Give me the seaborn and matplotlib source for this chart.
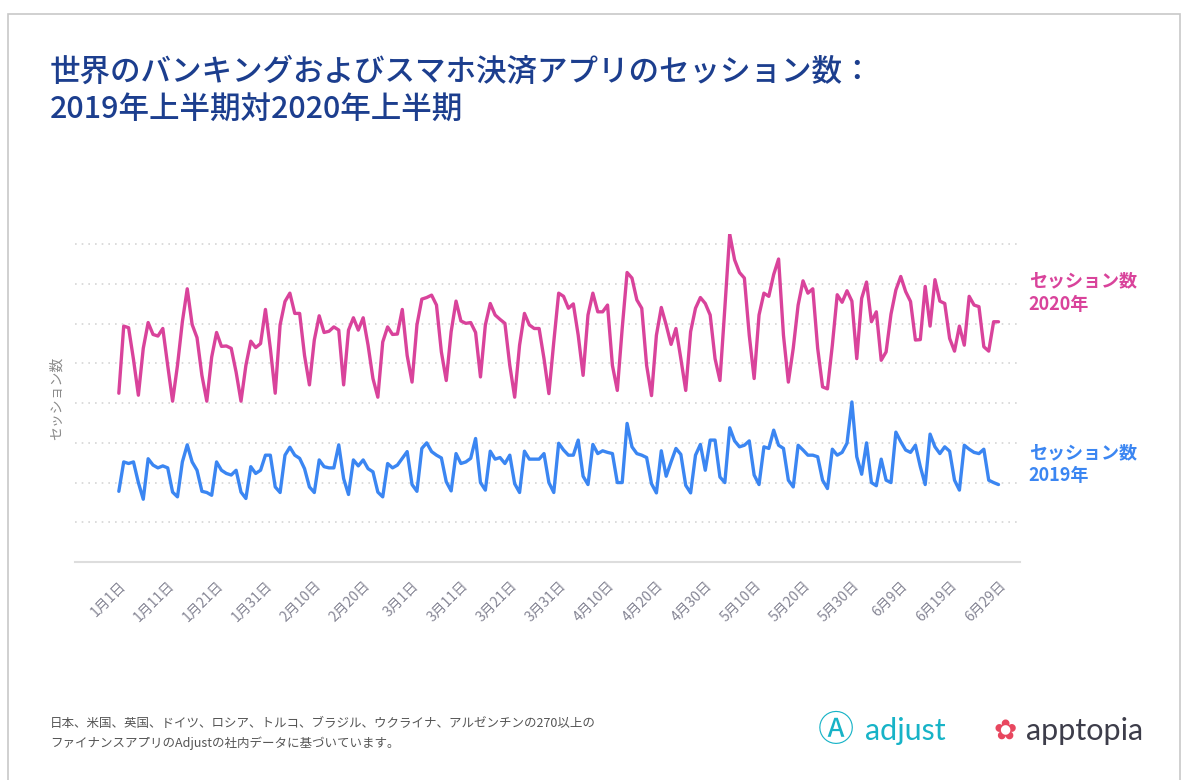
import numpy as np
import pandas as pd
import matplotlib.pyplot as plt
import seaborn as sns
from matplotlib.patches import Rectangle

# Data (in grid units; days 0..180 from Jan 1)
sessions_2020 = [
    4.25, 5.94, 5.90, 5.10, 4.20, 5.38, 6.03, 5.73, 5.69, 5.88,
    4.95, 4.05, 4.95, 6.05, 6.88, 5.98, 5.65, 4.70, 4.05, 5.16,
    5.78, 5.43, 5.44, 5.38, 4.78, 4.05, 4.95, 5.56, 5.40, 5.50,
    6.36, 5.38, 4.25, 5.97, 6.56, 6.77, 6.26, 6.26, 5.20, 4.46,
    5.59, 6.20, 5.78, 5.81, 5.92, 5.84, 4.46, 5.84, 6.15, 5.84,
    6.15, 5.46, 4.62, 4.15, 5.54, 5.92, 5.73, 5.74, 6.36, 5.20,
    4.53, 5.97, 6.62, 6.66, 6.72, 6.47, 5.29, 4.57, 5.80, 6.57,
    6.07, 6.01, 6.03, 5.78, 4.66, 5.97, 6.51, 6.22, 6.11, 6.01,
    4.95, 4.15, 5.46, 6.26, 5.97, 5.88, 5.88, 5.12, 4.24, 5.54,
    6.77, 6.69, 6.39, 6.50, 5.71, 4.70, 6.22, 6.77, 6.30, 6.30,
    6.47, 4.95, 4.32, 5.88, 7.29, 7.15, 6.60, 6.39, 4.95, 4.19,
    5.71, 6.41, 5.97, 5.48, 5.88, 5.12, 4.32, 5.80, 6.39, 6.66,
    6.51, 6.22, 5.12, 4.57, 6.39, 8.26, 7.61, 7.29, 7.15, 5.71,
    4.62, 6.22, 6.77, 6.69, 7.24, 7.63, 5.71, 4.53, 5.38, 6.47,
    7.08, 6.77, 6.88, 5.38, 4.41, 4.36, 5.46, 6.73, 6.54, 6.83,
    6.57, 5.12, 6.64, 7.05, 6.05, 6.30, 5.08, 5.29, 6.24, 6.85,
    7.19, 6.81, 6.56, 5.59, 5.60, 6.94, 5.94, 7.11, 6.57, 6.51,
    5.63, 5.31, 5.94, 5.46, 6.69, 6.47, 6.43, 5.42, 5.31, 6.05,
    6.05,
]

sessions_2019 = [
    1.78, 2.52, 2.48, 2.52, 2.00, 1.58, 2.60, 2.44, 2.37, 2.42,
    2.37, 1.76, 1.64, 2.52, 2.95, 2.52, 2.31, 1.78, 1.75, 1.68,
    2.52, 2.31, 2.23, 2.19, 2.31, 1.76, 1.60, 2.40, 2.23, 2.31,
    2.69, 2.69, 1.89, 1.75, 2.69, 2.89, 2.69, 2.61, 2.35, 1.89,
    1.75, 2.57, 2.40, 2.37, 2.37, 2.95, 2.10, 1.70, 2.57, 2.42,
    2.57, 2.35, 2.27, 1.76, 1.64, 2.48, 2.37, 2.44, 2.61, 2.78,
    1.95, 1.78, 2.86, 3.00, 2.78, 2.69, 2.62, 2.02, 1.79, 2.73,
    2.48, 2.52, 2.61, 3.11, 2.00, 1.81, 2.79, 2.59, 2.63, 2.48,
    2.69, 1.97, 1.75, 2.79, 2.59, 2.59, 2.59, 2.73, 2.00, 1.75,
    2.99, 2.82, 2.69, 2.69, 3.07, 2.16, 1.95, 2.96, 2.73, 2.80,
    2.76, 2.73, 2.00, 2.00, 3.49, 2.90, 2.73, 2.69, 2.63, 1.97,
    1.74, 2.80, 2.16, 2.52, 2.86, 2.71, 1.93, 1.74, 2.69, 2.96,
    2.31, 3.07, 3.07, 2.14, 2.00, 3.38, 3.05, 2.90, 2.94, 3.05,
    2.19, 1.95, 2.90, 2.86, 3.32, 2.94, 2.86, 2.06, 1.89, 2.94,
    2.82, 2.69, 2.69, 2.65, 2.06, 1.85, 2.84, 2.69, 2.76, 2.99,
    4.03, 2.65, 2.21, 3.00, 2.00, 1.92, 2.59, 2.06, 2.00, 3.27,
    3.03, 2.82, 2.76, 2.94, 2.40, 1.95, 3.22, 2.90, 2.73, 2.90,
    2.79, 2.06, 1.81, 2.94, 2.84, 2.76, 2.73, 2.84, 2.06, 2.00,
    1.95,
]

tick_days = list(range(0, 181, 10))
tick_labels = ["1月1日", "1月11日", "1月21日", "1月31日", "2月10日", "2月20日",
               "3月1日", "3月11日", "3月21日", "3月31日", "4月10日", "4月20日",
               "4月30日", "5月10日", "5月20日", "5月30日", "6月9日", "6月19日",
               "6月29日"]

title_lines = ["世界のバンキングおよびスマホ決済アプリのセッション数：",
               "2019年上半期対2020年上半期"]
footnote = ("日本、米国、英国、ドイツ、ロシア、トルコ、ブラジル、ウクライナ、アルゼンチンの270以上の\n"
            "ファイナンスアプリのAdjustの社内データに基づいています。")

PINK = "#d9439b"
BLUE = "#3b86f2"
NAVY = "#1c3e8e"

df = pd.DataFrame({
    "day": np.arange(len(sessions_2020)),
    "2020": sessions_2020,
    "2019": sessions_2019,
})

sns.set_style("white")
plt.rcParams['font.family'] = ['Noto Sans CJK JP', 'DejaVu Sans']

fig = plt.figure(figsize=(11.88, 7.8), dpi=100)
fig.patches.append(Rectangle((0.007, -0.01), 0.986, 0.992, transform=fig.transFigure,
                             fill=False, edgecolor="#c8c8c8", linewidth=1.2))

ax = fig.add_axes([0.063, 0.2795, 0.796, 0.42])
sns.lineplot(data=df, x="day", y="2020", color=PINK, linewidth=2.4, ax=ax)
sns.lineplot(data=df, x="day", y="2019", color=BLUE, linewidth=2.4, ax=ax)

ax.set_xlim(-9, 184.5)
ax.set_ylim(0, 8.25)
ax.set_yticks(range(1, 9))
ax.yaxis.grid(True, linestyle=(0, (1, 3)), color="#d5d5d5", linewidth=1.2)
ax.tick_params(axis="y", left=False, labelleft=False)
ax.set_xticks(tick_days)
ax.set_xticklabels(tick_labels, rotation=45, ha="right", rotation_mode="anchor",
                   color="#858594", fontsize=10)
ax.tick_params(axis="x", direction="in", length=9, color="#dddddd", pad=12)
for side in ["top", "right", "left"]:
    ax.spines[side].set_visible(False)
ax.spines["bottom"].set_color("#dddddd")
ax.spines["bottom"].set_linewidth(1.5)
ax.set_xlabel("")
ax.set_ylabel("セッション数", color="#8a8a8a", fontsize=10, labelpad=8)

# series labels on the right
fig.text(0.866, 0.625, "セッション数\n2020年", color=PINK, fontsize=13,
         fontweight="bold", va="center", linespacing=1.3)
fig.text(0.866, 0.405, "セッション数\n2019年", color=BLUE, fontsize=13,
         fontweight="bold", va="center", linespacing=1.3)

# title
fig.text(0.042, 0.908, title_lines[0], color=NAVY, fontsize=22, va="center",
         fontweight="medium")
fig.text(0.042, 0.859, title_lines[1], color=NAVY, fontsize=22, va="center",
         fontweight="medium")

# footnote
fig.text(0.042, 0.060, footnote, color="#555555", fontsize=9, va="center",
         linespacing=1.6)

# logos as text
fig.text(0.688, 0.063, "Ⓐ", color="#17b3c7", fontsize=26, va="center",
         family=["Noto Sans CJK JP", "DejaVu Sans"])
fig.text(0.728, 0.063, "adjust", color="#17b3c7", fontsize=22, va="center",
         family=["Lato", "DejaVu Sans"])
fig.text(0.836, 0.063, "✿", color="#e8475f", fontsize=20, va="center",
         family=["DejaVu Sans"])
fig.text(0.864, 0.063, "apptopia", color="#3d3d4a", fontsize=22, va="center",
         family=["Lato", "DejaVu Sans"])

plt.savefig("out.png", dpi=100)
